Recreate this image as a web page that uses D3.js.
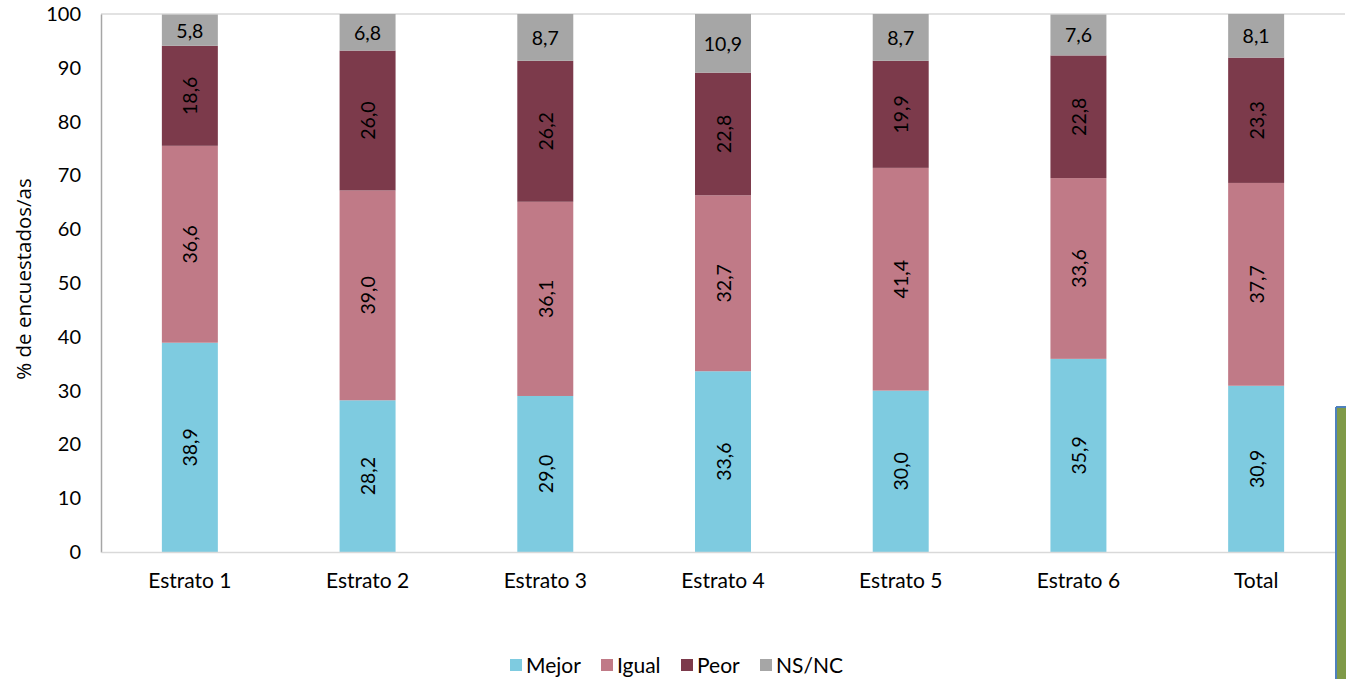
<!DOCTYPE html>
<html><head><meta charset="utf-8">
<script src="https://cdn.jsdelivr.net/npm/d3@7"></script>
<style>body{margin:0;background:#fff;}svg{display:block;font-family:Lato,"Open Sans",sans-serif;}</style>
</head><body>
<svg id="c" width="1346" height="679"></svg>
<script>
const categories = ["Estrato 1","Estrato 2","Estrato 3","Estrato 4","Estrato 5","Estrato 6","Total"];
const seriesNames = ["Mejor","Igual","Peor","NS/NC"];
const mejor = [38.9,28.2,29.0,33.6,30.0,35.9,30.9];
const igual = [36.6,39.0,36.1,32.7,41.4,33.6,37.7];
const peor  = [18.6,26.0,26.2,22.8,19.9,22.8,23.3];
const nsnc  = [5.8,6.8,8.7,10.9,8.7,7.6,8.1];
const yTicks = [0,10,20,30,40,50,60,70,80,90,100];
const colors = ["#7ecbe0","#c07a87","#7c3a4b","#a6a6a6"];

const svg = d3.select("#c");
const m = {l:101, t:14, r:1345, b:552};
const x = d3.scaleBand().domain(categories).range([m.l,m.r]).paddingInner(0.685).paddingOuter(0.3425);
const y = d3.scaleLinear().domain([0,100]).range([m.b,m.t]);

const rows = categories.map((c,i)=>({cat:c, "Mejor":mejor[i], "Igual":igual[i], "Peor":peor[i], "NS/NC":nsnc[i]}));
const stacked = d3.stack().keys(seriesNames)(rows);

svg.append("line").attr("x1",m.l).attr("x2",m.r).attr("y1",m.t).attr("y2",m.t).attr("stroke","#d9d9d9").attr("stroke-width",1.5);

const g = svg.append("g");
stacked.forEach((s,si)=>{
  g.selectAll(null).data(s).enter().append("rect")
    .attr("x",d=>x(d.data.cat)).attr("width",x.bandwidth())
    .attr("y",d=>y(Math.min(100,d[1]))).attr("height",d=>y(d[0])-y(Math.min(100,d[1])))
    .attr("fill",colors[si]);
});
stacked.forEach((s,si)=>{
  s.forEach(d=>{
    const cx = x(d.data.cat)+x.bandwidth()/2;
    const top = Math.min(100,d[1]);
    const cy = (y(d[0])+y(top))/2;
    const v = d[1]-d[0];
    const txt = d3.format(".1f")(v).replace(".",",");
    const t = svg.append("text").attr("font-size",19.5).attr("fill","#000").attr("text-anchor","middle").attr("dominant-baseline","central").text(txt);
    if (si===3) t.attr("x",cx).attr("y",cy);
    else t.attr("transform",`translate(${cx},${cy}) rotate(-90)`);
  });
});

const ya = svg.append("g").attr("transform",`translate(${m.l},0)`).call(d3.axisLeft(y).tickValues(yTicks).tickSize(0).tickPadding(20));
ya.select(".domain").attr("stroke","#a6a6a6").attr("stroke-width",1.5);
ya.selectAll("text").attr("font-size",20).attr("font-family","Lato").attr("fill","#000");
const xa = svg.append("g").attr("transform",`translate(0,${m.b})`).call(d3.axisBottom(x).tickSize(0).tickPadding(21));
xa.select(".domain").attr("stroke","#d9d9d9").attr("stroke-width",1.5);
xa.selectAll("text").attr("font-size",21).attr("font-family","Lato").attr("fill","#000");

svg.append("text").attr("transform",`translate(31,${279}) rotate(-90)`).attr("text-anchor","middle")
  .attr("font-size",20.5).attr("font-family","Open Sans").attr("fill","#000").text("% de encuestados/as");

const lg = svg.append("g");
const items = [{n:"Mejor",x:510},{n:"Igual",x:601},{n:"Peor",x:681},{n:"NS/NC",x:760}];
items.forEach((it,i)=>{
  lg.append("rect").attr("x",it.x).attr("y",659).attr("width",12).attr("height",12).attr("fill",colors[i]);
  lg.append("text").attr("x",it.x+16).attr("y",673).attr("font-size",21).attr("fill","#000").text(it.n);
});

svg.append("rect").attr("x",1336).attr("y",407).attr("width",10).attr("height",272).attr("fill","#7f9a48");
svg.append("line").attr("x1",1336).attr("x2",1336).attr("y1",407).attr("y2",679).attr("stroke","#4f81bd").attr("stroke-width",2);
svg.append("line").attr("x1",1336).attr("x2",1346).attr("y1",407).attr("y2",407).attr("stroke","#4f81bd").attr("stroke-width",2);
</script>
</body></html>
